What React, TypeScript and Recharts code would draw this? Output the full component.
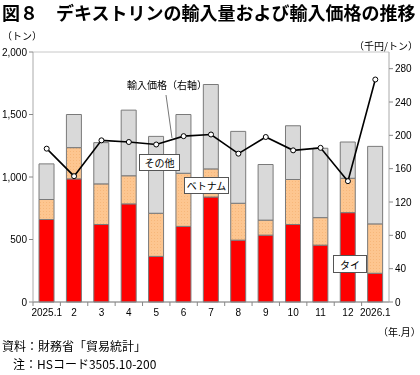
import React from "react";
import {
  ComposedChart,
  Bar,
  Line,
  XAxis,
  YAxis,
  CartesianGrid,
} from "recharts";

const months = ["2025.1", "2", "3", "4", "5", "6", "7", "8", "9", "10", "11", "12", "2026.1"];
const thai = [660, 985, 620, 785, 365, 605, 840, 495, 535, 620, 455, 715, 230];
const vietnam = [160, 250, 325, 225, 345, 425, 225, 295, 120, 360, 220, 275, 395];
const others = [285, 265, 330, 525, 615, 470, 675, 575, 445, 430, 555, 290, 620];
const price = [184, 151, 194, 192, 189, 199, 201, 178, 198, 182, 185, 145, 267];

const leftTicks = [0, 500, 1000, 1500, 2000];
const rightTicks = [0, 40, 80, 120, 160, 200, 240, 280];

const data = months.map((m, i) => ({
  month: m,
  thai: thai[i],
  vietnam: vietnam[i],
  others: others[i],
  price: price[i],
}));

const JP = '"Noto Sans CJK JP", "Noto Sans", sans-serif';
const NUM = '"Liberation Sans", Arial, sans-serif';

const XTick = ({ x, y, payload }: any) => {
  const half = payload?.offset ?? 13.7;
  return (
    <g>
      <line x1={x - half} x2={x - half} y1={y - 8} y2={y - 4} stroke="#888" />
      <text x={x} y={y + 6} textAnchor="middle" fontSize={10} fontFamily={NUM} fill="#000">
        {payload.value}
      </text>
    </g>
  );
};

const boxStyle: React.CSSProperties = {
  position: "absolute",
  background: "#fff",
  border: "1px solid #555",
  fontSize: 10,
  fontFamily: JP,
  display: "flex",
  alignItems: "center",
  justifyContent: "center",
  boxSizing: "border-box",
};

export default function App() {
  return (
    <div
      style={{
        position: "fixed",
        left: 0,
        top: 0,
        width: 420,
        height: 375,
        background: "#fff",
        fontFamily: JP,
        color: "#000",
      }}
    >
      <div
        style={{
          position: "absolute",
          left: 2,
          top: 1,
          fontSize: 18,
          fontWeight: 700,
          whiteSpace: "nowrap",
          lineHeight: "22px",
        }}
      >
        図８　デキストリンの輸入量および輸入価格の推移
      </div>
      <div style={{ position: "absolute", left: 2, top: 28, fontSize: 10, whiteSpace: "nowrap" }}>（トン）</div>
      <div style={{ position: "absolute", left: 354, top: 38, fontSize: 10, whiteSpace: "nowrap" }}>（千円/トン）</div>

      <div style={{ position: "absolute", left: 0, top: 0 }}>
        <ComposedChart
          width={420}
          height={330}
          data={data}
          margin={{ top: 52, right: 0, bottom: 0, left: 0 }}
          barCategoryGap="22%"
        >
          <defs>
            <pattern id="dots" width="3" height="3" patternUnits="userSpaceOnUse">
              <rect width="3" height="3" fill="#fdc690" />
              <rect x="1" y="1" width="1" height="1" fill="#f7b77a" />
            </pattern>
          </defs>
          <CartesianGrid vertical={false} stroke="#c8c8c8" />
          <XAxis
            dataKey="month"
            height={28}
            tickLine={false}
            axisLine={{ stroke: "#888" }}
            tick={<XTick />}
            interval={0}
          />
          <YAxis
            yAxisId="left"
            domain={[0, 2000]}
            ticks={leftTicks}
            width={33}
            axisLine={{ stroke: "#aaa" }}
            tickLine={{ stroke: "#888" }}
            tickSize={4}
            tick={{ fontSize: 10, fontFamily: NUM, fill: "#000" }}
            tickFormatter={(v) => v.toLocaleString("en-US")}
          />
          <YAxis
            yAxisId="right"
            orientation="right"
            domain={[0, 300]}
            ticks={rightTicks}
            width={31}
            axisLine={{ stroke: "#aaa" }}
            tickLine={{ stroke: "#888" }}
            tickSize={4}
            tick={{ fontSize: 10, fontFamily: NUM, fill: "#000" }}
          />
          <Bar yAxisId="left" dataKey="thai" stackId="a" fill="#ff0000" stroke="#7a7a7a" strokeWidth={1} isAnimationActive={false} />
          <Bar yAxisId="left" dataKey="vietnam" stackId="a" fill="url(#dots)" stroke="#7a7a7a" strokeWidth={1} isAnimationActive={false} />
          <Bar yAxisId="left" dataKey="others" stackId="a" fill="#d9d9d9" stroke="#7a7a7a" strokeWidth={1} isAnimationActive={false} />
          <Line
            yAxisId="right"
            dataKey="price"
            stroke="#000"
            strokeWidth={1.6}
            dot={{ r: 2.5, fill: "#fff", stroke: "#000", strokeWidth: 1 }}
            isAnimationActive={false}
          />
        </ComposedChart>
      </div>

      <div style={{ position: "absolute", left: 127, top: 77, fontSize: 10, whiteSpace: "nowrap" }}>
        輸入価格（右軸）
      </div>
      <svg style={{ position: "absolute", left: 0, top: 0 }} width={420} height={375}>
        <line x1={166} y1={95} x2={172} y2={138} stroke="#777" strokeWidth={1} />
      </svg>
      <div style={{ ...boxStyle, left: 139, top: 154, width: 41, height: 17 }}>その他</div>
      <div style={{ ...boxStyle, left: 184, top: 177, width: 45, height: 17 }}>ベトナム</div>
      <div style={{ ...boxStyle, left: 333, top: 255, width: 34, height: 18 }}>タイ</div>

      <div style={{ position: "absolute", left: 378, top: 324, fontSize: 10, whiteSpace: "nowrap" }}>（年.月）</div>
      <div style={{ position: "absolute", left: 2, top: 337, fontSize: 12, whiteSpace: "nowrap" }}>資料：財務省「貿易統計」</div>
      <div style={{ position: "absolute", left: 13, top: 355, fontSize: 12, whiteSpace: "nowrap" }}>注：HSコード3505.10-200</div>
    </div>
  );
}
